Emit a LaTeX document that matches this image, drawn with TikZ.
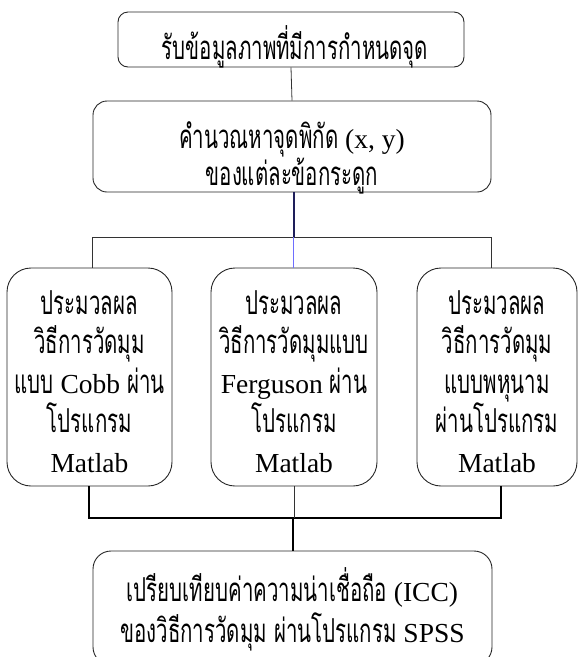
\documentclass[tikz,border=0pt]{standalone}
\usepackage{fontspec}
\setmainfont{Liberation Serif}
\newfontfamily\thaifont[Script=Thai,Scale=1.2,FakeStretch=0.62]{Loma}
\newcommand\T[1]{{\thaifont #1}}
\newcommand\fl{\rule{0pt}{30pt}}
\usetikzlibrary{calc}

\begin{document}
\begin{tikzpicture}[x=1pt,y=-1pt,
  box/.style={draw=black!85, line width=0.9pt, inner sep=0pt},
  txt/.style={inner sep=0pt, align=center, anchor=north,
    font=\fontsize{27.5}{39.5}\selectfont},
  link/.style={draw=black!80, line width=0.8pt},
  heavy/.style={draw=black, line width=1.6pt},
  navyline/.style={draw=navy, line width=1.8pt},
  blueline/.style={draw=lightblue, line width=1.2pt}]
\definecolor{navy}{RGB}{30,30,90}
\definecolor{lightblue}{RGB}{110,110,255}

\useasboundingbox (0,0) rectangle (580,657);

% boxes
\node[box, rounded corners=10pt, minimum width=346pt, minimum height=55pt] (b1) at (291,39.5) {};
\node[box, rounded corners=14pt, minimum width=398pt, minimum height=91pt] (b2) at (292,146.5) {};
\node[box, rounded corners=24pt, minimum width=165pt, minimum height=218pt] (left) at (89.5,377) {};
\node[box, rounded corners=24pt, minimum width=166pt, minimum height=218pt] (mid) at (294,377) {};
\node[box, rounded corners=24pt, minimum width=160pt, minimum height=218pt] (right) at (497,377) {};
\node[box, rounded corners=18pt, minimum width=399pt, minimum height=114pt] (bot) at (292.5,608) {};

% texts
\node[txt] (t1) at (295,25) {\fl\T{รับข้อมูลภาพที่มีการกำหนดจุด}};
\node[txt, font=\fontsize{27.5}{34}\selectfont] (t2) at (292,118)
  {\fl\T{คำนวณหาจุดพิกัด} (x, y)\\\T{ของแต่ละข้อกระดูก}};
\node[txt] (tl) at (89.5,284)
  {\fl\T{ประมวลผล}\\\T{วิธีการวัดมุม}\\\T{แบบ} Cobb \T{ผ่าน}\\\T{โปรแกรม}\\Matlab};
\node[txt] (tm) at (294,284)
  {\fl\T{ประมวลผล}\\\T{วิธีการวัดมุมแบบ}\\Ferguson \T{ผ่าน}\\\T{โปรแกรม}\\Matlab};
\node[txt] (tr) at (497,284)
  {\fl\T{ประมวลผล}\\\T{วิธีการวัดมุม}\\\T{แบบพหุนาม}\\\T{ผ่านโปรแกรม}\\Matlab};
\node[txt, font=\fontsize{27.5}{41}\selectfont] (tb) at (292.5,567)
  {\fl\T{เปรียบเทียบค่าความน่าเชื่อถือ} (ICC)\\\T{ของวิธีการวัดมุม ผ่านโปรแกรม} SPSS};

% junction points
\coordinate (jt)  at (293.7,237);
\coordinate (jtl) at (92,237);
\coordinate (jtr) at (491,237);
\coordinate (jbl) at (89,518);
\coordinate (jbr) at (501,518);
\coordinate (jbm) at (293,518);

% upper connectors
\draw[link] (b1.south) -- (b2.north);
\draw[navyline] (b2.south -| jt) -- (jt);
\draw[link] (jtl |- left.north) -- (jtl) -- (jtr) -- (jtr |- right.north);
\draw[blueline] (jt) -- (jt |- mid.north);

% lower connectors
\draw[heavy] (jbl |- left.south) -- (jbl) -- (jbr) -- (jbr |- right.south);
\draw[link] (mid.south) -- (mid.south |- jbm);
\draw[heavy, line width=2pt] (jbm) -- (jbm |- bot.north);
\end{tikzpicture}
\end{document}
